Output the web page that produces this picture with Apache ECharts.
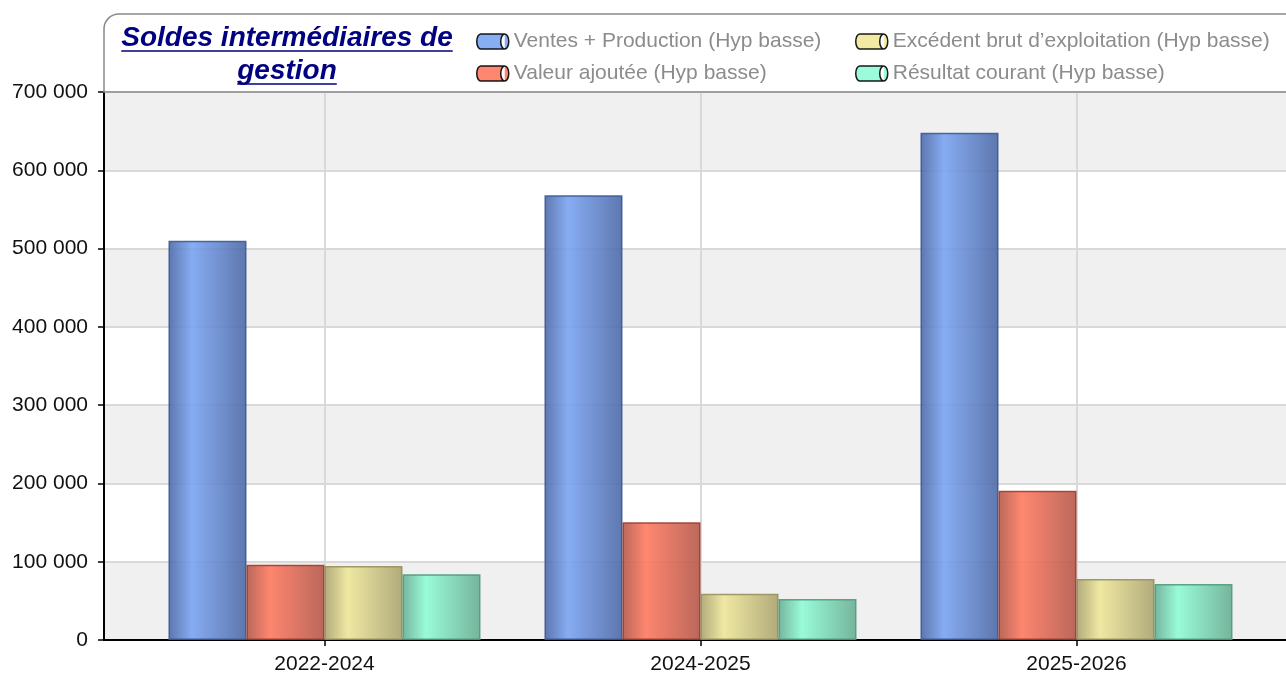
<!DOCTYPE html>
<html>
<head>
<meta charset="utf-8">
<script src="https://cdn.jsdelivr.net/npm/echarts@6/dist/echarts.min.js"></script>
<style>
  html, body { margin: 0; padding: 0; background: #fff; }
  #chart { width: 1286px; height: 673px; }
</style>
</head>
<body>
<div id="chart"></div>
<script>
// données
const categories = ['2022-2024', '2024-2025', '2025-2026']
const ventesProduction = [510000, 568000, 648000]
const valeurAjoutee = [96000, 150500, 190500]
const excedentBrut = [94500, 59000, 78000]
const resultatCourant = [84000, 52500, 71500]

const seriesNames = [
  'Ventes + Production (Hyp basse)',
  'Valeur ajoutée (Hyp basse)',
  'Excédent brut d\u2019exploitation (Hyp basse)',
  'Résultat courant (Hyp basse)',
]
const seriesValues = [ventesProduction, valeurAjoutee, excedentBrut, resultatCourant]

// dark edge / light centre / border
const palette = [
  { dark: '#4d69a6', light: '#7aa4f2', border: '#3c5896' },
  { dark: '#b4584a', light: '#ff7a60', border: '#a23a2c' },
  { dark: '#aaa36e', light: '#efe79a', border: '#97905c' },
  { dark: '#68ae93', light: '#8ffcd6', border: '#4f9a7c' },
]

const FONT = '"Liberation Sans", Arial, Helvetica, sans-serif'
const titleText = 'Soldes intermédiaires de\ngestion'
const titleSize = 28
const titleFont = 'italic bold ' + titleSize + 'px ' + FONT
const titleCenter = 287

const measure = (txt, font) => {
  const ctx = document.createElement('canvas').getContext('2d')
  ctx.font = font
  return ctx.measureText(txt).width
}
const lineWidths = titleText.split('\n').map((l) => measure(l, titleFont))
const underlineY = [51, 84]

const fmtThousands = (v) => String(v).replace(/\B(?=(\d{3})+(?!\d))/g, ' ')

const cylinder =
  'path://M4,0 L28,0 A4,7.5 0 0 1 28,15 L4,15 A4,7.5 0 0 1 4,0 Z M28,0 A4,7.5 0 0 0 28,15'

const chart = echarts.init(document.getElementById('chart'))

const makeLegend = (names, left) => ({
  left: left,
  top: 31,
  orient: 'vertical',
  padding: 0,
  itemGap: 11,
  itemWidth: 32,
  itemHeight: 15,
  icon: cylinder,
  selectedMode: false,
  textStyle: { color: '#8c8c8c', fontSize: 21, fontFamily: FONT, lineHeight: 20 },
  data: names.map((n) => ({
    name: n,
    itemStyle: {
      color: palette[seriesNames.indexOf(n)].light,
      borderColor: '#000',
      borderWidth: 1.5,
    },
  })),
})

const option = {
  animation: false,
  backgroundColor: '#fff',
  legend: [
    makeLegend(seriesNames.slice(0, 2), 476),
    makeLegend(seriesNames.slice(2, 4), 855),
  ],
  graphic: [
    {
      type: 'rect',
      z: -10,
      silent: true,
      shape: { x: 104, y: 14, width: 1200, height: 78, r: [15, 0, 0, 0] },
      style: { fill: '#fff' },
    },
    {
      type: 'rect',
      z: 100,
      silent: true,
      shape: { x: 104, y: 14, width: 1200, height: 78, r: [15, 0, 0, 0] },
      style: { fill: null, stroke: '#8a8a8a', lineWidth: 1.5 },
    },
    {
      type: 'text',
      z: 100,
      silent: true,
      x: titleCenter,
      y: 22,
      style: {
        text: titleText,
        fill: '#000080',
        font: titleFont,
        align: 'center',
        verticalAlign: 'top',
        lineHeight: 33,
      },
    },
    ...lineWidths.map((w, i) => ({
      type: 'line',
      z: 100,
      silent: true,
      shape: { x1: titleCenter - w / 2, y1: underlineY[i], x2: titleCenter + w / 2, y2: underlineY[i] },
      style: { stroke: '#000080', lineWidth: 1.5 },
    })),
  ],
  grid: { left: 104, right: 0, top: 92, bottom: 33, outerBoundsMode: 'none', containLabel: false },
  xAxis: {
    type: 'value',
    min: -0.5864,
    max: 2.5572,
    axisLine: { show: true, onZero: false, lineStyle: { color: '#000', width: 2 } },
    axisTick: { show: true, customValues: [0, 1, 2], length: 6, lineStyle: { color: '#000', width: 1.5 } },
    axisLabel: {
      customValues: [0, 1, 2],
      formatter: (v) => categories[Math.round(v)],
      color: '#111',
      fontSize: 21,
      fontFamily: FONT,
      margin: 14,
    },
    splitLine: { show: true, lineStyle: { color: '#d9d9d9', width: 2 } },
  },
  yAxis: {
    type: 'value',
    min: 0,
    max: 700000,
    interval: 100000,
    axisLine: { show: true, onZero: false, lineStyle: { color: '#000', width: 2 } },
    axisTick: { show: true, length: 6, lineStyle: { color: '#000', width: 1.5 } },
    axisLabel: {
      formatter: fmtThousands,
      color: '#111',
      fontSize: 21,
      fontFamily: FONT,
      margin: 16,
    },
    splitLine: { show: true, lineStyle: { color: '#d9d9d9', width: 2 } },
    splitArea: { show: true, areaStyle: { color: ['#f0f0f0', '#ffffff'] } },
  },
  series: seriesNames.map((name, s) => ({
    name: name,
    type: 'bar',
    barWidth: 78,
    barGap: '0%',
    itemStyle: {
      opacity: 0.9,
      borderColor: palette[s].border,
      borderWidth: 1.5,
      color: new echarts.graphic.LinearGradient(0, 0, 1, 0, [
        { offset: 0, color: palette[s].dark },
        { offset: 0.3, color: palette[s].light },
        { offset: 1, color: palette[s].dark },
      ]),
    },
    data: seriesValues[s].map((v, i) => [i, v]),
  })),
}

chart.setOption(option)
</script>
</body>
</html>
